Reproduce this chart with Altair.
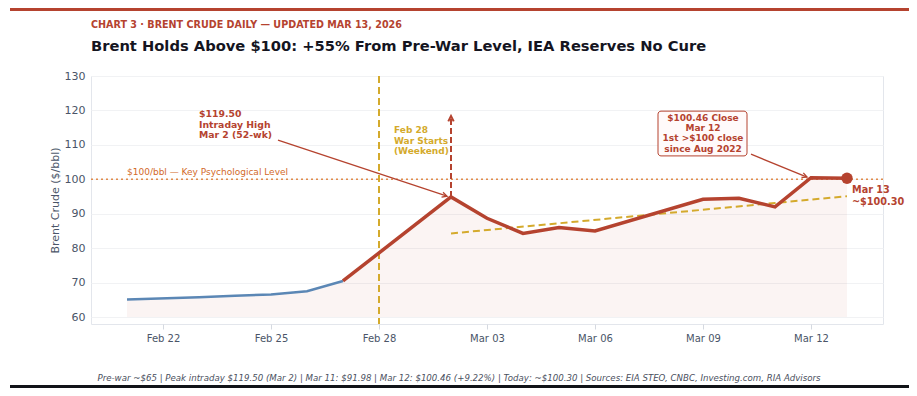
import altair as alt
import pandas as pd

# ---------------- data ----------------
pre_dates = ["2026-02-21", "2026-02-23", "2026-02-24", "2026-02-25", "2026-02-26", "2026-02-27"]
pre_vals = [65.1, 65.8, 66.2, 66.6, 67.5, 70.5]

war_dates = ["2026-02-27", "2026-03-02", "2026-03-03", "2026-03-04", "2026-03-05", "2026-03-06",
             "2026-03-09", "2026-03-10", "2026-03-11", "2026-03-12", "2026-03-13"]
war_vals = [70.5, 94.9, 88.7, 84.3, 86.0, 85.0, 94.2, 94.5, 91.98, 100.46, 100.3]

trend_dates = ["2026-03-02", "2026-03-13"]
trend_vals = [84.3, 95.1]

tick_dates = ["2026-02-22", "2026-02-25", "2026-02-28", "2026-03-03", "2026-03-06", "2026-03-09", "2026-03-12"]
y_ticks = [60, 70, 80, 90, 100, 110, 120, 130]

RED = "#b5432f"
BLUE = "#5b87b5"
GOLD = "#d4aa2c"
ORANGE = "#e08a4a"
GRAY = "#4a5568"

pre = pd.DataFrame({"date": pre_dates, "value": pre_vals})
war = pd.DataFrame({"date": war_dates, "value": war_vals})
allpts = pd.DataFrame({"date": pre_dates[:-1] + war_dates, "value": pre_vals[:-1] + war_vals, "base": 60})
trend = pd.DataFrame({"date": trend_dates, "value": trend_vals})

xscale = alt.Scale(type="utc", domain=[alt.DateTime(year=2026, month=2, date=20, utc=True),
                                       alt.DateTime(year=2026, month=3, date=14, utc=True)])
yscale = alt.Scale(domain=[58, 130], nice=False, zero=False)

xvals = [alt.DateTime(year=int(d[:4]), month=int(d[5:7]), date=int(d[8:10]), utc=True) for d in tick_dates]

X = alt.X("date:T", scale=xscale,
          axis=alt.Axis(values=xvals, labelExpr="utcFormat(datum.value, '%b %d')", title=None, grid=False,
                        tickCount=30, domain=False, tickColor="#d5d9e0", tickSize=5, labelColor=GRAY,
                        labelFontSize=10, labelPadding=4, labelFont="DejaVu Sans"))
Y = alt.Y("value:Q", scale=yscale,
          axis=alt.Axis(values=y_ticks, tickCount=20, labelOverlap=False,
                        title="Brent Crude ($/bbl)", titleFontSize=11,
                        titleFontWeight="normal", titleColor=GRAY, titlePadding=4, ticks=False,
                        domain=False, labelColor=GRAY, labelFontSize=11, labelPadding=6,
                        gridColor="#f1f2f4", labelFont="DejaVu Sans", titleFont="DejaVu Sans"))

area = alt.Chart(allpts).mark_area(color=RED, opacity=0.06).encode(x=X, y=Y, y2="base:Q")

line_pre = alt.Chart(pre).mark_line(color=BLUE, strokeWidth=2.5).encode(x="date:T", y="value:Q")
line_war = alt.Chart(war).mark_line(color=RED, strokeWidth=3.5).encode(x="date:T", y="value:Q")
trend_line = alt.Chart(trend).mark_line(color=GOLD, strokeWidth=2, strokeDash=[7, 4]).encode(
    x="date:T", y="value:Q")

war_rule = alt.Chart(pd.DataFrame({"date": ["2026-02-28"]})).mark_rule(
    color=GOLD, strokeWidth=2, strokeDash=[7, 4]).encode(x="date:T")

level_rule = alt.Chart(pd.DataFrame({"value": [100]})).mark_rule(
    color=ORANGE, strokeWidth=1.5, strokeDash=[2, 3]).encode(y="value:Q")

level_text = alt.Chart(pd.DataFrame({"date": ["2026-02-21"], "value": [102.1],
                                     "t": ["$100/bbl — Key Psychological Level"]})).mark_text(
    align="left", baseline="middle", fontSize=9, color="#d2692a", font="DejaVu Sans").encode(
    x="date:T", y="value:Q", text="t:N")

# red dashed up arrow at Mar 2
up_rule = alt.Chart(pd.DataFrame({"date": ["2026-03-02"], "value": [94.9], "v2": [118.0]})).mark_rule(
    color=RED, strokeWidth=2, strokeDash=[6, 3]).encode(x="date:T", y="value:Q", y2="v2:Q")
chevron = "M-1.4,-0.7L0,0L-1.4,0.7"
up_head = alt.Chart(pd.DataFrame({"date": ["2026-03-02"], "value": [118.4]})).mark_point(
    shape=chevron, filled=False, color=RED, strokeWidth=2, size=60, opacity=1).encode(
    x="date:T", y="value:Q", angle=alt.value(270))

# annotation arrows
arrows = pd.DataFrame({
    "date": ["2026-02-25T04:40:00Z", "2026-03-10T08:00:00Z"],
    "d2": ["2026-03-01T21:20:00Z", "2026-03-11T21:20:00Z"],
    "value": [111.4, 107.3],
    "v2": [95.1, 100.66],
})
arrow_lines = alt.Chart(arrows).mark_rule(color=RED, strokeWidth=1.3).encode(
    x="date:T", x2="d2:T", y="value:Q", y2="v2:Q")
heads = pd.DataFrame({"date": ["2026-03-01T21:20:00Z", "2026-03-11T21:20:00Z"],
                      "value": [95.1, 100.66], "ang": [18, 22]})
arrow_heads = alt.Chart(heads).mark_point(shape=chevron, filled=False, color=RED, strokeWidth=1.3,
                                          size=50, opacity=1).encode(
    x="date:T", y="value:Q", angle=alt.Angle("ang:Q", scale=None))

# end marker
end_pt = alt.Chart(pd.DataFrame({"date": ["2026-03-13"], "value": [100.3]})).mark_circle(
    color=RED, size=130, opacity=1).encode(x="date:T", y="value:Q")

# text annotations
peak_txt = alt.Chart(pd.DataFrame({
    "date": ["2026-02-23"] * 3, "value": [119.0, 115.8, 112.9],
    "t": ["$119.50", "Intraday High", "Mar 2 (52-wk)"]})).mark_text(
    align="left", baseline="middle", fontSize=9.3, fontWeight="bold", color=RED, font="DejaVu Sans").encode(
    x="date:T", y="value:Q", text="t:N")

war_txt = alt.Chart(pd.DataFrame({
    "date": ["2026-02-28T10:00:00Z"] * 3, "value": [114.3, 111.1, 108.2],
    "t": ["Feb 28", "War Starts", "(Weekend)"]})).mark_text(
    align="left", baseline="middle", fontSize=9, fontWeight="bold", color=GOLD, font="DejaVu Sans").encode(
    x="date:T", y="value:Q", text="t:N")

box = alt.Chart(pd.DataFrame({"date": ["2026-03-07T18:00:00Z"], "d2": ["2026-03-10T05:20:00Z"],
                              "value": [119.8], "v2": [106.8]})).mark_rect(
    fill="#fffafa", stroke=RED, strokeWidth=1, cornerRadius=3).encode(
    x="date:T", x2="d2:T", y="value:Q", y2="v2:Q")

box_txt = alt.Chart(pd.DataFrame({
    "date": ["2026-03-09T00:00:00Z"] * 4, "value": [117.8, 114.9, 112.0, 108.8],
    "t": ["$100.46 Close", "Mar 12", "1st >$100 close", "since Aug 2022"]})).mark_text(
    align="center", baseline="middle", fontSize=9, fontWeight="bold", color=RED, font="DejaVu Sans").encode(
    x="date:T", y="value:Q", text="t:N")

end_txt = alt.Chart(pd.DataFrame({
    "date": ["2026-03-13T03:20:00Z"] * 2, "value": [96.9, 93.4],
    "t": ["Mar 13", "~$100.30"]})).mark_text(
    align="left", baseline="middle", fontSize=9.7, fontWeight="bold", color=RED, font="DejaVu Sans").encode(
    x="date:T", y="value:Q", text="t:N")

# header / footer decorations (pixel positions relative to the plot area)
top_bar = alt.Chart(pd.DataFrame({"a": [0]})).mark_rect(color=RED).encode(
    x=alt.value(-81), x2=alt.value(819), y=alt.value(-68), y2=alt.value(-65))
bottom_bar = alt.Chart(pd.DataFrame({"a": [0]})).mark_rect(color="#111318").encode(
    x=alt.value(-81), x2=alt.value(819), y=alt.value(309), y2=alt.value(312))

kicker = alt.Chart(pd.DataFrame({"t": ["CHART 3  ·  BRENT CRUDE DAILY — UPDATED MAR 13, 2026"]})).mark_text(
    align="left", baseline="middle", fontSize=9.6, fontWeight="bold", color=RED, font="DejaVu Sans").encode(
    x=alt.value(0), y=alt.value(-51), text="t:N")
headline = alt.Chart(pd.DataFrame({"t": ["Brent Holds Above $100: +55% From Pre-War Level, IEA Reserves No Cure"]})).mark_text(
    align="left", baseline="middle", fontSize=14.7, fontWeight="bold", color="#15151f", font="DejaVu Sans").encode(
    x=alt.value(0), y=alt.value(-29), text="t:N")
footer = alt.Chart(pd.DataFrame({"t": ["Pre-war ~$65 | Peak intraday $119.50 (Mar 2) | Mar 11: $91.98 | Mar 12: $100.46 (+9.22%) | Today: ~$100.30 | Sources: EIA STEO, CNBC, Investing.com, RIA Advisors"]})).mark_text(
    align="center", baseline="middle", fontSize=8.63, fontStyle="italic", color="#4a5060", font="DejaVu Sans").encode(
    x=alt.value(368), y=alt.value(302), text="t:N")

chart = alt.layer(
    area, level_rule, war_rule, trend_line, line_pre, line_war, up_rule, up_head,
    arrow_lines, arrow_heads, end_pt, level_text, peak_txt, war_txt, box, box_txt, end_txt,
    top_bar, bottom_bar, kicker, headline, footer
).properties(
    width=792, height=248,
    autosize=alt.AutoSizeParams(type="none"),
    padding={"left": 83, "top": 68, "right": 26, "bottom": 64},
    background="white",
).configure_view(stroke="#e3e6ec", strokeWidth=1)

chart.save("out.html", embed_options={"renderer": "svg", "actions": False})
